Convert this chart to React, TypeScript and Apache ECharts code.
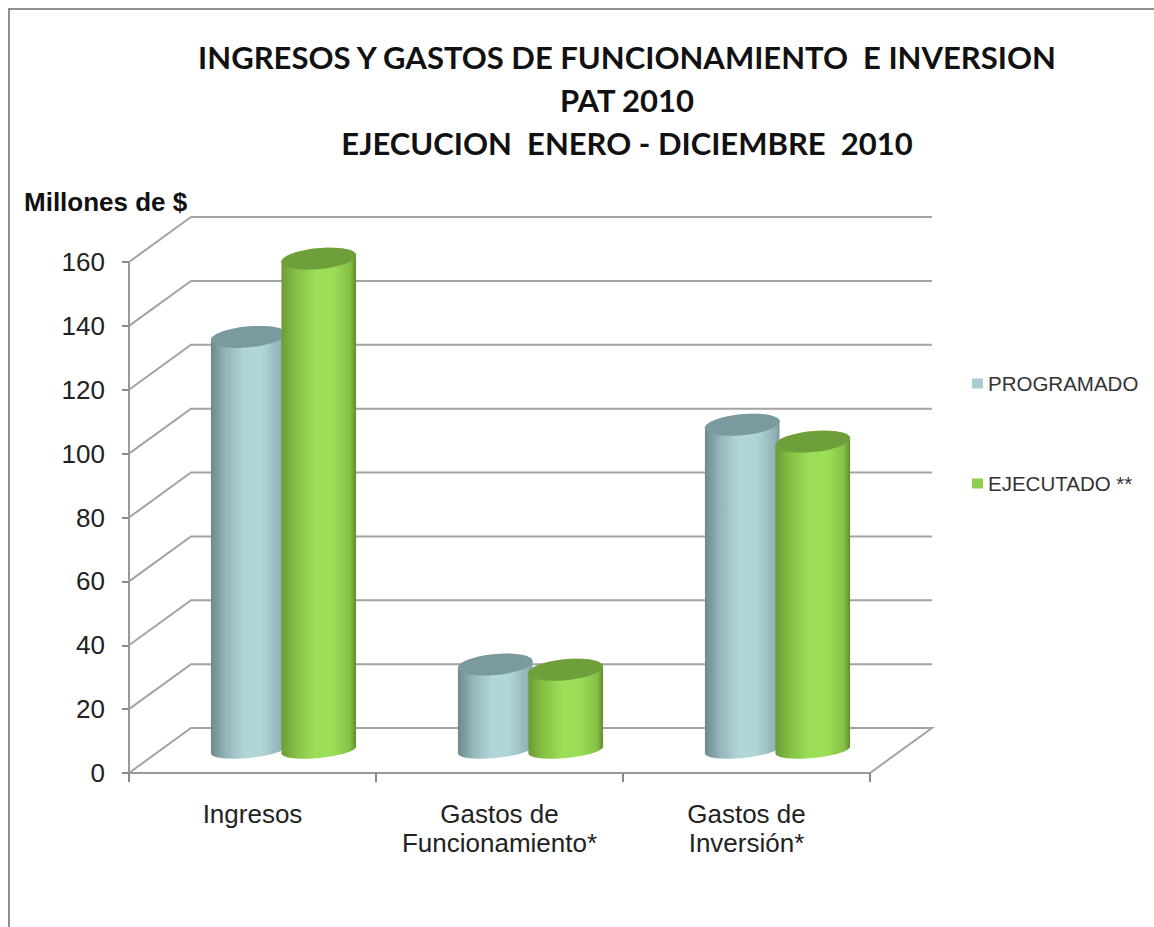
import React, { useEffect, useRef } from "react";
import * as echarts from "echarts";

const categories = ["Ingresos", "Gastos de\nFuncionamiento*", "Gastos de\nInversión*"];
const programado = [129.5, 26.9, 102];
const ejecutado = [154, 25.3, 96.7];
const yTicks = [0, 20, 40, 60, 80, 100, 120, 140, 160];
const titleText = "INGRESOS Y GASTOS DE FUNCIONAMIENTO  E INVERSION\nPAT 2010\nEJECUCION  ENERO - DICIEMBRE  2010";
const unitText = "Millones de $";
const names = ["PROGRAMADO", "EJECUTADO **"];

const DEPTH_X = 62;
const DEPTH_Y = 45;
const A = 37.5;
const TILT = (-5.5 * Math.PI) / 180;

const arc = (cx: number, cy: number, b: number, from: number, to: number) => {
  const pts: number[][] = [];
  const n = 32;
  for (let i = 0; i <= n; i++) {
    const t = from + ((to - from) * i) / n;
    pts.push([
      cx + A * Math.cos(t) * Math.cos(TILT) - b * Math.sin(t) * Math.sin(TILT),
      cy + A * Math.cos(t) * Math.sin(TILT) + b * Math.sin(t) * Math.cos(TILT),
    ]);
  }
  return pts;
};

const cylinder = (offset: number, stops: string[], topColor: string) => (params: any, api: any) => {
  const cat = api.value(0);
  const p = api.coord([cat, api.value(1)]);
  const base = api.coord([cat, 0]);
  const cx = p[0] + DEPTH_X / 2 + offset;
  const topY = p[1] - DEPTH_Y / 2;
  const baseY = base[1] - DEPTH_Y / 2 - 0.5;
  const lower = arc(cx, baseY, 8, 0, Math.PI);
  const upperEdge = arc(cx, topY, 10.5, Math.PI, 2 * Math.PI);
  const gradient = new echarts.graphic.LinearGradient(0, 0, 1, 0, [
    { offset: 0, color: stops[0] },
    { offset: 0.2, color: stops[1] },
    { offset: 0.45, color: stops[2] },
    { offset: 0.68, color: stops[2] },
    { offset: 0.92, color: stops[1] },
    { offset: 1, color: stops[3] },
  ]);
  return {
    type: "group",
    children: [
      { type: "polygon", shape: { points: [...upperEdge, ...lower] }, style: { fill: gradient } },
      { type: "polygon", shape: { points: arc(cx, topY, 10.5, 0, 2 * Math.PI) }, style: { fill: topColor } },
    ],
  };
};

const walls = (params: any, api: any) => {
  const v = api.value(1);
  const y = api.coord([0, v])[1];
  const { x, width } = params.coordSys;
  const points: number[][] = [
    [x, y],
    [x + DEPTH_X, y - DEPTH_Y],
    [x + width + DEPTH_X, y - DEPTH_Y],
  ];
  if (v === 0) points.push([x + width, y]);
  return {
    type: "polyline",
    shape: { points },
    style: { fill: "none", stroke: "#a3a3a3", lineWidth: 2 },
  };
};

export default function App() {
  const ref = useRef<HTMLDivElement>(null);
  useEffect(() => {
    const chart = echarts.init(ref.current!, undefined, { renderer: "svg" });
    chart.setOption({
      animation: false,
      backgroundColor: "#ffffff",
      title: [
        {
          text: titleText,
          left: 622,
          top: 30,
          textAlign: "center",
          textStyle: { fontFamily: "Lato", fontWeight: "bold", fontSize: 31, lineHeight: 43, color: "#111111" },
        },
        {
          text: unitText,
          left: 19,
          top: 184,
          textStyle: { fontFamily: "Liberation Sans", fontWeight: "bold", fontSize: 26, color: "#111111" },
        },
      ],
      legend: {
        orient: "vertical",
        left: 967,
        top: 368,
        itemWidth: 11,
        itemHeight: 10,
        itemGap: 79,
        selectedMode: false,
        textStyle: { fontFamily: "Liberation Sans", fontSize: 20.5, color: "#333333" },
        data: [
          { name: names[0], icon: "rect", itemStyle: { color: "#a9cdd1" } },
          { name: names[1], icon: "rect", itemStyle: { color: "#8fce4a" } },
        ],
      },
      grid: { left: 129, top: 262, width: 741, height: 511 },
      xAxis: {
        type: "category",
        data: categories,
        axisLine: { show: true, lineStyle: { color: "#999999", width: 2 } },
        axisTick: { show: true, length: 9, lineStyle: { color: "#888888", width: 2 } },
        axisLabel: { margin: 26, interval: 0, fontFamily: "Liberation Sans", fontSize: 26, lineHeight: 29, color: "#222222" },
        splitLine: { show: false },
      },
      yAxis: {
        type: "value",
        min: 0,
        max: 160,
        interval: 20,
        axisLine: { show: true, lineStyle: { color: "#999999", width: 2 } },
        axisTick: { show: true, length: 7, lineStyle: { color: "#888888", width: 2 } },
        axisLabel: { margin: 24, fontFamily: "Liberation Sans", fontSize: 26, color: "#222222" },
        splitLine: { show: false },
      },
      graphic: [
        {
          type: "polyline",
          shape: { points: [[9, 927], [9, 9], [1154, 9]] },
          style: { fill: "none", stroke: "#8f8f8f", lineWidth: 2 },
          silent: true,
        },
      ],
      series: [
        {
          type: "custom",
          name: "walls",
          silent: true,
          z: 1,
          renderItem: walls,
          encode: { x: 0, y: 1 },
          data: yTicks.map((t) => [0, t]),
        },
        {
          type: "custom",
          name: names[0],
          z: 2,
          itemStyle: { color: "#a9cdd1" },
          renderItem: cylinder(-35.25, ["#6b8a8e", "#94b5b9", "#b1d5d8", "#7f9ea2"], "#7b9a9e"),
          encode: { x: 0, y: 1 },
          data: programado.map((v, i) => [i, v]),
        },
        {
          type: "custom",
          name: names[1],
          z: 3,
          itemStyle: { color: "#8fce4a" },
          renderItem: cylinder(35.25, ["#6d9c36", "#86c045", "#9bdf58", "#5f8c2e"], "#6f9f3a"),
          encode: { x: 0, y: 1 },
          data: ejecutado.map((v, i) => [i, v]),
        },
      ],
    });
    return () => chart.dispose();
  }, []);
  return (
    <div
      ref={ref}
      style={{ position: "absolute", left: 0, top: 0, width: 1154, height: 927 }}
    />
  );
}
